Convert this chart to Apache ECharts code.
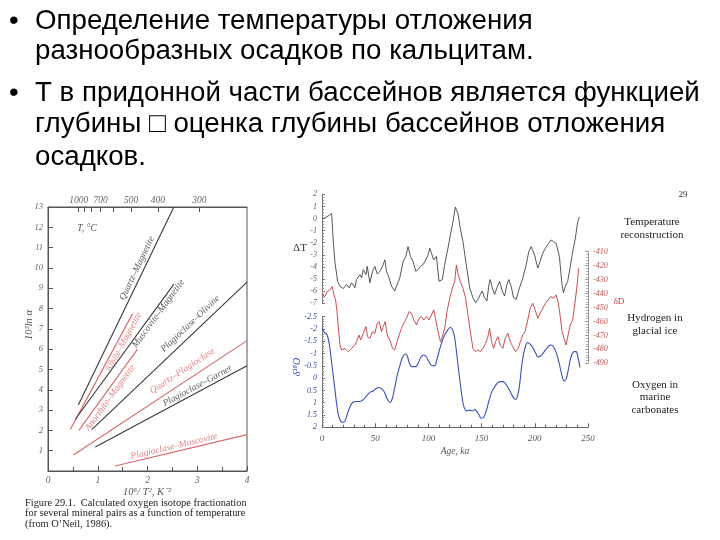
<!DOCTYPE html>
<html><head><meta charset="utf-8">
<script src="https://cdn.jsdelivr.net/npm/echarts@6/dist/echarts.min.js"></script>
<style>html,body{margin:0;padding:0;background:#fff}#c{width:720px;height:540px}</style>
</head><body><div id="c"></div>
<script>
// ---------- slide text ----------
const bullet1 = ['Определение температуры отложения', 'разнообразных осадков по кальцитам.'];
const bullet2 = ['Т в придонной части бассейнов является функцией', 'глубины \u25A1 оценка глубины бассейнов отложения', 'осадков.'];

// ---------- left figure (O'Neil 1986) ----------
const pairNames = ['Quartz–Magnetite', 'Albite–Magnetite', 'Muscovite–Magnetite', 'Anorthite–Magnetite',
  'Plagioclase–Olivine', 'Quartz–Plagioclase', 'Plagioclase–Garnet', 'Plagioclase–Muscovite'];
const pairIsRed = [false, true, false, true, false, true, false, true];
const pairX0 = [0.61, 0.45, 0.55, 0.62, 0.88, 0.51, 0.95, 1.35];
const pairY0 = [3.25, 2.05, 2.55, 2.00, 2.04, 0.79, 1.18, 0.25];
const pairX1 = [2.53, 1.70, 2.53, 1.80, 4.00, 4.00, 4.00, 4.00];
const pairY1 = [13.0, 7.75, 9.20, 6.00, 9.30, 6.42, 5.18, 1.79];
const pairLabelX = [1.79, 1.52, 2.22, 1.25, 2.86, 2.70, 3.00, 2.53];
const pairLabelY = [9.98, 6.34, 7.75, 3.61, 7.25, 4.93, 4.19, 1.21];
const tTickC = [1000, 900, 800, 700, 600, 500, 400, 300];
const tLabelC = [1000, 700, 500, 400, 300];
const captionLines = ['Figure 29.1.  Calculated oxygen isotope fractionation',
  'for several mineral pairs as a function of temperature', '(from O\u2019Neil, 1986).'];

// ---------- right figure ----------
const tempAge = [0,2.8,6.9,9.1,10.6,12.2,14.7,16.9,20,23.1,25.6,27.8,30.9,32.5,35.6,37.2,38.8,41.3,42.5,45,47.5,49.7,51.9,54.4,56.9,59.1,60.6,63.1,65.3,68.4,70.6,73.1,76.3,78.8,80.9,83.1,85.6,88.1,90.3,92.5,95,97.5,99.7,101.3,102.8,105,107.5,110,113.1,115.3,118.4,120.6,123.1,125.3,127.8,130,132.5,135.6,138.8,141.9,144.4,146.6,148.8,150.6,152.8,155,156.9,158.1,160,162.2,164.4,166.9,169.4,171.6,173.8,175.6,177.8,180,182.5,185.6,188.8,191.9,194.4,196.6,199.7,202.8,205,207.5,210,213.1,215.3,217.5,220,223.1,225.6,226.9,228.8,230.9,233.1,235.6,238.1,240.3,241.9];
const tempDT = [0,0.05,0.27,0.41,-1.91,-3.65,-5.18,-5.59,-5.78,-5.45,-5.72,-5.31,-5.72,-5.04,-4.63,-4.9,-4.22,-4.63,-3.95,-5.31,-4.36,-3.95,-4.58,-4.36,-3.95,-3.41,-4.36,-4.9,-5.59,-5.99,-5.45,-4.9,-3.54,-3.13,-2.32,-3.13,-3.54,-4.36,-4.22,-3.95,-3.81,-3.41,-3,-2.45,-2.86,-3.41,-3.13,-5.18,-5.04,-3.81,-2.45,-1.36,-0.27,0.95,0.41,-0.82,-1.91,-3.81,-5.72,-6.54,-6.95,-6.68,-6.27,-5.99,-6.54,-6.81,-5.45,-5.04,-5.72,-6.27,-5.72,-5.18,-5.99,-6.4,-5.45,-5.04,-5.59,-6.54,-6.68,-5.72,-4.9,-3.81,-2.72,-2.32,-3,-4.09,-3.54,-2.86,-2.45,-2.04,-1.77,-1.91,-2.04,-3.13,-5.45,-6.13,-5.59,-5.18,-4.09,-2.72,-1.63,-0.27,0.14];
const hydAge = [0,2.8,5,7.5,9.7,11.3,12.8,14.1,15.3,16.9,18.4,21.6,24.7,27.8,30.9,32.5,34.7,36.3,38.8,41.3,42.8,45,47.5,49.7,51.9,53.8,55.9,57.5,59.4,61.3,63.8,66.3,68.4,70.6,72.5,74.7,76.9,79.4,81.9,84.1,86.3,88.8,91.3,93.4,95.6,98.1,100.6,102.8,105,106.9,109.1,111.3,113.1,115.3,117.5,120,122.5,124.7,126.3,127.8,130,132.5,135,137.2,139.4,141.9,144.4,146.6,148.8,151.3,153.8,155.9,157.5,159.4,161.3,163.1,165.3,167.5,170,172.2,174.7,176.9,179.4,181.9,184.4,186.9,188.8,190.9,193.4,195.6,198.1,200.3,202.8,205,207.5,210,212.5,215,217.5,220,222.2,224.1,225.6,227.5,229.4,231.3,233.4,235.6,237.5,239.4,241.3];
const hydDD = [-441,-442.2,-438.6,-437.4,-435,-441,-444.6,-452.9,-463.7,-476.9,-480.4,-479.3,-481.7,-479.3,-476.9,-474.5,-469.7,-473.3,-468.5,-463.7,-470.9,-472.1,-467.3,-468.5,-461.3,-460.2,-467.3,-463.7,-460.2,-469.7,-473.3,-479.3,-480.4,-474.5,-469.7,-464.9,-461.3,-457.7,-452.9,-454.1,-458.9,-462.5,-457.7,-456.5,-458.9,-456.5,-458.9,-455.4,-451.8,-458.9,-467.3,-474.5,-470.9,-464.9,-452.9,-443.4,-436.2,-431.5,-419.5,-425.5,-431.5,-436.2,-443.4,-455.4,-467.3,-479.3,-481.7,-480.4,-481.7,-479.3,-475.7,-470.9,-464.9,-474.5,-479.3,-474.5,-470.9,-477,-479.3,-472.1,-468.5,-474.5,-478.1,-481.7,-479.3,-473.3,-469.7,-467.3,-458.9,-450.6,-447,-451.8,-457.7,-454.1,-450.6,-447,-444.6,-442.2,-443.4,-441,-447,-457.7,-467.3,-472.1,-476.9,-469.7,-462.5,-458.9,-448.2,-436.2,-421.9];
const oxyAge = [0.3,2.2,4.4,6.3,8.1,10,11.9,13.8,15.6,17.5,19.4,21.6,23.8,26.3,28.8,31.9,35.6,38.8,41.9,45,48.1,51.3,53.8,56.3,58.8,61.3,63.8,65.9,68.4,70.6,73.1,75.6,78.1,80,82.5,85,88.1,90.6,93.1,95.6,98.1,100.6,103.1,105.6,108.1,110.6,113.1,115.6,118.1,120.6,122.5,124.4,126.3,128.1,130,131.9,133.8,136.3,138.8,141.3,143.8,145.6,147.5,149.7,151.9,154.4,156.9,159.4,161.9,164.4,166.9,169.4,171.9,174.4,176.9,179.4,181.9,183.8,185.6,187.5,189.4,191.3,193.1,195.6,198.1,200.6,203.1,205.6,208.1,210.6,213.1,215.6,218.1,220.6,223.1,225.6,227.5,229.4,231.3,233.1,235,236.9,238.8,240.6,242.5];
const oxyD18O = [-2.06,-1.85,-1.79,-1.52,-0.98,-0.3,0.38,1.06,1.53,1.74,1.8,1.74,1.46,1.17,0.99,0.95,0.95,0.88,0.72,0.58,0.52,0.41,0.38,0.45,0.58,0.85,0.99,0.85,0.38,-0.09,-0.5,-0.84,-0.98,-0.91,-0.57,-0.47,-0.47,-0.63,-0.86,-0.94,-0.86,-0.66,-0.52,-0.5,-0.77,-1.18,-1.52,-1.79,-1.95,-2.06,-1.99,-1.72,-1.11,-0.43,0.24,0.85,1.22,1.33,1.3,1.33,1.28,1.36,1.49,1.63,1.6,1.33,0.92,0.58,0.38,0.22,0.14,0.14,0.19,0.35,0.54,0.76,0.87,0.72,0.31,-0.43,-0.98,-1.31,-1.45,-1.38,-1.24,-1.04,-0.86,-0.91,-1.04,-1.18,-1.31,-1.35,-1.24,-0.98,-0.57,-0.09,0.11,0.04,-0.3,-0.7,-0.98,-1.08,-1.08,-0.84,-0.43];
const recordNames = [['Temperature', 'reconstruction'], ['Hydrogen in', 'glacial ice'], ['Oxygen in', 'marine', 'carbonates']];

// ---------- layout / style ----------
const L = {left: 48, top: 207, width: 199, height: 264};
const R = {left: 322, width: 266};
const RED_L = '#d9676a', BLACK_L = '#3a3a3a';
const RED_R = '#c23b3b', BLUE_R = '#3a50b8', BLACK_R = '#444';
const serifIt = (s) => 'italic ' + s + 'px "Liberation Serif"';
const toX = (c) => 1e6 / Math.pow(c + 273.15, 2);
const zip = (a, b) => a.map((v, i) => [v, b[i]]);

const chart = echarts.init(document.getElementById('c'), null, {renderer: 'canvas'});

const graphic = [];
const sansFont = '27.7px "Liberation Sans"';
graphic.push({type: 'text', x: 9, y: 21, style: {text: '•', font: sansFont, fill: '#000', textVerticalAlign: 'middle'}});
graphic.push({type: 'text', x: 9, y: 93, style: {text: '•', font: sansFont, fill: '#000', textVerticalAlign: 'middle'}});
const b1y = [21, 51], b2y = [93, 124, 157];
bullet1.forEach((t, i) => graphic.push({type: 'text', x: 35, y: b1y[i], style: {text: t, font: sansFont, fill: '#000', textVerticalAlign: 'middle'}}));
bullet2.forEach((t, i) => graphic.push({type: 'text', x: 35, y: b2y[i], style: {text: t, font: sansFont, fill: '#000', textVerticalAlign: 'middle'}}));
// left figure texts
graphic.push({type: 'text', x: 29, y: 325, rotation: Math.PI / 2, style: {text: '10³ln α', font: serifIt(10.5), fill: '#555', textAlign: 'center', textVerticalAlign: 'middle'}});
graphic.push({type: 'text', x: 147, y: 492, style: {text: '10⁶/ T², K⁻²', font: serifIt(10.5), fill: '#555', textAlign: 'center', textVerticalAlign: 'middle'}});
graphic.push({type: 'text', x: 87, y: 228, style: {text: 'T, °C', font: serifIt(9.5), fill: '#555', textAlign: 'center', textVerticalAlign: 'middle'}});
const capY = [503, 513.5, 524];
captionLines.forEach((t, i) => graphic.push({type: 'text', x: 25, y: capY[i], style: {text: t, font: '10.4px "Liberation Serif"', fill: '#222', textVerticalAlign: 'middle'}}));
// right figure texts
graphic.push({type: 'text', x: 300, y: 248, style: {text: 'ΔT', font: '11px "Liberation Serif"', fill: '#333', textAlign: 'center', textVerticalAlign: 'middle'}});
graphic.push({type: 'text', x: 297, y: 367, rotation: Math.PI / 2, style: {text: 'δ¹⁸O', font: serifIt(10), fill: BLUE_R, textAlign: 'center', textVerticalAlign: 'middle'}});
graphic.push({type: 'text', x: 619, y: 302, style: {text: 'δD', font: '9px "Liberation Serif"', fill: RED_R, textAlign: 'center', textVerticalAlign: 'middle'}});
graphic.push({type: 'text', x: 683, y: 195, style: {text: '29', font: '9px "Liberation Serif"', fill: '#333', textAlign: 'center', textVerticalAlign: 'middle'}});
graphic.push({type: 'text', x: 455, y: 451, style: {text: 'Age, ka', font: serifIt(9.5), fill: '#555', textAlign: 'center', textVerticalAlign: 'middle'}});
const recX = [652, 655, 655], recY = [[222, 235], [318, 331], [385, 397.5, 410.5]];
recordNames.forEach((lines, k) => lines.forEach((t, i) => graphic.push({type: 'text', x: recX[k], y: recY[k][i],
  style: {text: t, font: '11px "Liberation Serif"', fill: '#222', textAlign: 'center', textVerticalAlign: 'middle'}})));

const lineAxis = (c) => ({show: true, onZero: false, lineStyle: {color: c, width: 1}});

const series = [];
pairNames.forEach((n, i) => {
  series.push({type: 'line', xAxisIndex: 0, yAxisIndex: 0, showSymbol: false, silent: true,
    data: [[pairX0[i], pairY0[i]], [pairX1[i], pairY1[i]]],
    lineStyle: {color: pairIsRed[i] ? RED_L : BLACK_L, width: 1.1}});
  const slope = (pairY1[i] - pairY0[i]) / (pairX1[i] - pairX0[i]);
  const ang = Math.atan(slope * (L.height / 13) / (L.width / 4)) * 180 / Math.PI;
  series.push({type: 'scatter', xAxisIndex: 0, yAxisIndex: 0, symbolSize: 1, silent: true,
    itemStyle: {color: 'rgba(0,0,0,0)'},
    data: [{value: [pairLabelX[i], pairLabelY[i]], name: n}],
    label: {show: true, position: 'inside', formatter: n, rotate: ang,
      color: pairIsRed[i] ? RED_L : '#333', fontFamily: 'Liberation Serif', fontStyle: 'italic', fontSize: 9.5}});
});
series.push({type: 'line', xAxisIndex: 2, yAxisIndex: 1, showSymbol: false, silent: true, data: zip(tempAge, tempDT),
  lineStyle: {color: BLACK_R, width: 0.9}});
series.push({type: 'line', xAxisIndex: 3, yAxisIndex: 2, showSymbol: false, silent: true, data: zip(hydAge, hydDD),
  lineStyle: {color: RED_R, width: 0.9}});
series.push({type: 'line', xAxisIndex: 4, yAxisIndex: 3, showSymbol: false, silent: true, smooth: 0.4, data: zip(oxyAge, oxyD18O),
  lineStyle: {color: BLUE_R, width: 1.1}});

const rLab = (c) => ({fontFamily: 'Liberation Serif', fontStyle: 'italic', fontSize: 8, color: c, margin: 5});

chart.setOption({
  animation: false,
  backgroundColor: '#fff',
  grid: [
    {left: L.left, top: L.top, width: L.width, height: L.height, show: true, borderColor: '#555', borderWidth: 1},
    {left: R.left, top: 194.3, width: R.width, height: 109},
    {left: R.left, top: 251.7, width: R.width, height: 111.6},
    {left: R.left, top: 316.7, width: R.width, height: 110.6}
  ],
  xAxis: [
    {gridIndex: 0, type: 'value', min: 0, max: 4, interval: 1, position: 'bottom',
      axisLine: lineAxis('#555'), splitLine: {show: false},
      axisTick: {inside: true, length: 5, lineStyle: {color: '#555'}},
      minorTick: {show: true, splitNumber: 2, length: 4, lineStyle: {color: '#555'}},
      axisLabel: {fontFamily: 'Liberation Serif', fontStyle: 'italic', fontSize: 9.5, color: '#666', margin: 4}},
    {gridIndex: 0, type: 'value', min: 0, max: 4, position: 'top',
      axisLine: lineAxis('#555'), splitLine: {show: false},
      axisTick: {show: true, inside: true, length: 5, customValues: tTickC.map(toX), lineStyle: {color: '#555'}},
      axisLabel: {show: true, customValues: tLabelC.map(toX), fontFamily: 'Liberation Serif', fontStyle: 'italic', fontSize: 9.5, color: '#666', margin: 2,
        formatter: (v) => String(Math.round((1000 / Math.sqrt(v) - 273.15) / 100) * 100)}},
    {gridIndex: 1, type: 'value', min: 0, max: 250, show: false},
    {gridIndex: 2, type: 'value', min: 0, max: 250, show: false},
    {gridIndex: 3, type: 'value', min: 0, max: 250, interval: 50, position: 'bottom',
      axisLine: lineAxis('#666'), splitLine: {show: false},
      axisTick: {inside: true, length: 4, lineStyle: {color: '#666'}},
      minorTick: {show: true, splitNumber: 5, length: 2.5, lineStyle: {color: '#666'}},
      axisLabel: Object.assign(rLab('#555'), {fontSize: 9, margin: 7})}
  ],
  yAxis: [
    {gridIndex: 0, type: 'value', min: 0, max: 13, interval: 1,
      axisLine: lineAxis('#555'), splitLine: {show: false},
      axisTick: {inside: true, length: 5, lineStyle: {color: '#555'}},
      axisLabel: {fontFamily: 'Liberation Serif', fontStyle: 'italic', fontSize: 8.5, color: '#666', margin: 5,
        formatter: (v) => v === 0 ? '' : String(v)}},
    {gridIndex: 1, type: 'value', min: -7, max: 2, interval: 1,
      axisLine: lineAxis('#777'), splitLine: {show: false},
      axisTick: {inside: true, length: 3, lineStyle: {color: '#777'}},
      minorTick: {show: true, splitNumber: 4, length: 2, lineStyle: {color: '#888'}},
      axisLabel: rLab('#666')},
    {gridIndex: 2, type: 'value', min: -490, max: -410, interval: 10, position: 'right',
      axisLine: lineAxis('#999'), splitLine: {show: false},
      axisTick: {inside: true, length: 3, lineStyle: {color: '#999'}},
      minorTick: {show: true, splitNumber: 5, length: 2, lineStyle: {color: '#aaa'}},
      axisLabel: rLab('#c05555')},
    {gridIndex: 3, type: 'value', min: -2.5, max: 2, interval: 0.5, inverse: true,
      axisLine: lineAxis('#777'), splitLine: {show: false},
      axisTick: {inside: true, length: 3, lineStyle: {color: '#777'}},
      minorTick: {show: true, splitNumber: 5, length: 2, lineStyle: {color: '#888'}},
      axisLabel: Object.assign(rLab('#3a4aa0'), {formatter: (v) => String(v)})}
  ],
  graphic: graphic,
  series: series
});
</script></body></html>
